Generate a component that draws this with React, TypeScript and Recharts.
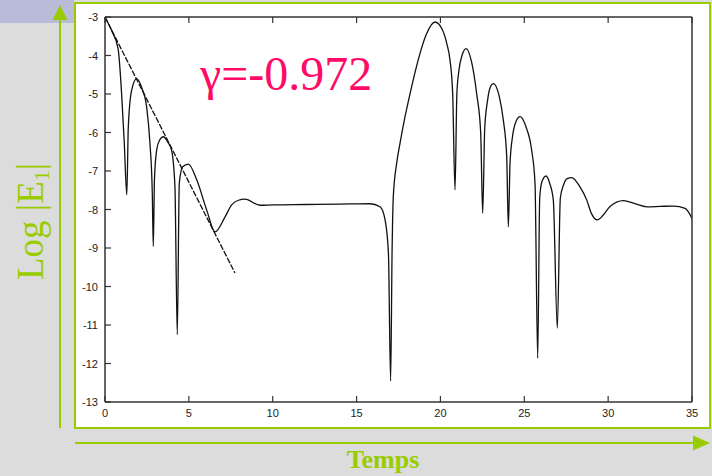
import React from 'react';
import { LineChart, Line, XAxis, YAxis } from 'recharts';

const curveT = [
  0, 0.4, 0.78, 0.99, 1.15, 1.3, 1.39, 1.59, 1.89, 2.2, 2.48, 2.68, 2.82, 2.88, 2.95, 3.08, 3.25, 3.48,
  3.75, 3.97, 4.17, 4.31, 4.43, 4.63, 4.97, 5.47, 6.06, 6.56, 7.16, 7.55, 7.95, 8.35, 9.24, 10, 12, 14,
  15.8, 16.4, 16.7, 16.9, 17.03, 17.12, 17.19, 17.39, 17.59, 17.89, 18.19, 18.49, 18.78, 19.18, 19.68,
  20.08, 20.38, 20.57, 20.73, 20.87, 20.98, 21.1, 21.3, 21.53, 21.85, 22.16, 22.4, 22.52, 22.64, 22.8,
  22.95, 23.16, 23.5, 23.75, 23.95, 24.05, 24.15, 24.3, 24.5, 24.75, 25.1, 25.44, 25.64, 25.8, 25.92,
  26.05, 26.3, 26.5, 26.73, 26.97, 27.15, 27.35, 27.55, 27.83, 28.3, 28.72, 29.0, 29.36, 29.7, 30.1,
  30.91, 31.6, 32.3, 33.1, 33.9, 34.59, 35,
];
const curveV = [
  -3.0, -3.36, -3.82, -4.99, -6.28, -7.62, -5.85, -4.9, -4.6, -4.85, -5.33, -6.28, -7.58, -8.96, -7.2,
  -6.46, -6.2, -6.11, -6.25, -6.46, -7.41, -11.25, -7.32, -6.89, -6.82, -7.23, -8.01, -8.58, -8.19, -7.88,
  -7.76, -7.73, -7.89, -7.88, -7.87, -7.86, -7.85, -7.93, -8.27, -9.14, -12.45, -9.0, -7.67, -6.8, -6.28,
  -5.59, -4.99, -4.43, -3.95, -3.43, -3.13, -3.3, -3.69, -4.12, -4.99, -7.49, -5.0, -4.4, -3.98, -3.82,
  -4.15, -4.99, -6.0, -8.1, -5.9, -5.2, -4.85, -4.73, -5.05, -5.68, -6.6, -8.45, -6.8, -6.1, -5.72, -5.59,
  -5.85, -6.46, -7.32, -11.86, -7.7, -7.28, -7.13, -7.3, -7.75, -11.08, -7.7, -7.35, -7.2, -7.17, -7.4,
  -7.75, -8.1, -8.27, -8.15, -7.93, -7.77, -7.85, -7.93, -7.92, -7.91, -7.97, -8.23,
];
const fitT = [0, 7.75];
const fitV = [-3, -9.65];
const xTicks = [0, 5, 10, 15, 20, 25, 30, 35];
const yTicks = [-3, -4, -5, -6, -7, -8, -9, -10, -11, -12, -13];
const gammaLabel = 'γ=-0.972';
const xTitle = 'Temps';

const curveData = curveT.map((t, i) => ({ t, v: curveV[i] }));
const fitData = fitT.map((t, i) => ({ t, f: fitV[i] }));

const GREEN = '#99cc00';
const AX = '#333';

const BottomTick = (p: any) => (
  <g>
    <line x1={p.x} y1={p.y} x2={p.x} y2={p.y - 6} stroke={AX} strokeWidth={1.2} />
    <text x={p.x} y={p.y + 15} textAnchor="middle" fontSize={11} fontFamily="Liberation Sans, Arial" fill="#222">
      {p.payload.value}
    </text>
  </g>
);
const TopTick = (p: any) => (
  <line x1={p.x} y1={p.y} x2={p.x} y2={p.y + 6} stroke={AX} strokeWidth={1.2} />
);
const LeftTick = (p: any) => (
  <g>
    <line x1={p.x} y1={p.y} x2={p.x + 6} y2={p.y} stroke={AX} strokeWidth={1.2} />
    <text x={p.x - 7} y={p.y + 4} textAnchor="end" fontSize={11} fontFamily="Liberation Sans, Arial" fill="#222">
      {p.payload.value}
    </text>
  </g>
);
const RightTick = (p: any) => (
  <line x1={p.x} y1={p.y} x2={p.x - 6} y2={p.y} stroke={AX} strokeWidth={1.2} />
);

export default function App() {
  return (
    <div style={{ position: 'fixed', left: 0, top: 0, width: 712, height: 476, background: '#dcdcdc', overflow: 'hidden' }}>
      <div style={{ position: 'absolute', left: 0, top: 0, width: 74, height: 23, background: '#b8bcd8' }} />
      <div style={{ position: 'absolute', left: 74, top: 2, width: 633, height: 423, background: '#fff', border: `2px solid ${GREEN}` }} />
      <div style={{ position: 'absolute', left: 0, top: 0 }}>
        <LineChart width={712} height={476} data={curveData} margin={{ top: 16, right: 19, bottom: 44, left: 65 }}>
          <XAxis xAxisId="b" dataKey="t" type="number" domain={[0, 35]} ticks={xTicks} orientation="bottom" height={30}
            axisLine={{ stroke: AX, strokeWidth: 1.5 }} tickLine={false} tickSize={0} tickMargin={0} tick={BottomTick} />
          <XAxis xAxisId="t" dataKey="t" type="number" domain={[0, 35]} ticks={xTicks} orientation="top" height={1}
            axisLine={{ stroke: AX, strokeWidth: 1.5 }} tickLine={false} tickSize={0} tickMargin={0} tick={TopTick} />
          <YAxis yAxisId="l" type="number" domain={[-13, -3]} ticks={yTicks} orientation="left" width={40}
            axisLine={{ stroke: AX, strokeWidth: 1.5 }} tickLine={false} tickSize={0} tickMargin={0} tick={LeftTick} />
          <YAxis yAxisId="r" type="number" domain={[-13, -3]} ticks={yTicks} orientation="right" width={1}
            axisLine={{ stroke: AX, strokeWidth: 1.5 }} tickLine={false} tickSize={0} tickMargin={0} tick={RightTick} />
          <Line xAxisId="b" yAxisId="l" data={fitData} dataKey="f" type="linear" stroke="#111" strokeWidth={1.3}
            strokeDasharray="6 1.5" dot={false} isAnimationActive={false} />
          <Line xAxisId="b" yAxisId="l" data={curveData} dataKey="v" type="monotone" stroke="#111" strokeWidth={1.3}
            dot={false} isAnimationActive={false} />
        </LineChart>
      </div>
      <svg width={712} height={476} style={{ position: 'absolute', left: 0, top: 0, pointerEvents: 'none' }}>
        <line x1={60} y1={18} x2={60} y2={428} stroke={GREEN} strokeWidth={2} />
        <polygon points="60,5 52.5,20 67.5,20" fill={GREEN} />
        <line x1={75} y1={443} x2={694} y2={443} stroke={GREEN} strokeWidth={2} />
        <polygon points="710,443 693,435.5 693,450.5" fill={GREEN} />
        <text x={200} y={90} fontSize={48} fontFamily="Liberation Serif, Times New Roman, serif" fill="#ff0a64">
          {gammaLabel}
        </text>
        <text x={383} y={468} textAnchor="middle" fontSize={26} fontWeight="bold" fontFamily="Liberation Serif, Times New Roman, serif" fill={GREEN}>
          {xTitle}
        </text>
        <g transform="translate(43,280) rotate(-90)">
          <text x={0} y={0} fontSize={37} fontFamily="Liberation Serif, Times New Roman, serif" fill={GREEN}>
            Log |E<tspan fontSize={22} dy={6}>1</tspan><tspan dy={-6}>|</tspan>
          </text>
        </g>
      </svg>
    </div>
  );
}
